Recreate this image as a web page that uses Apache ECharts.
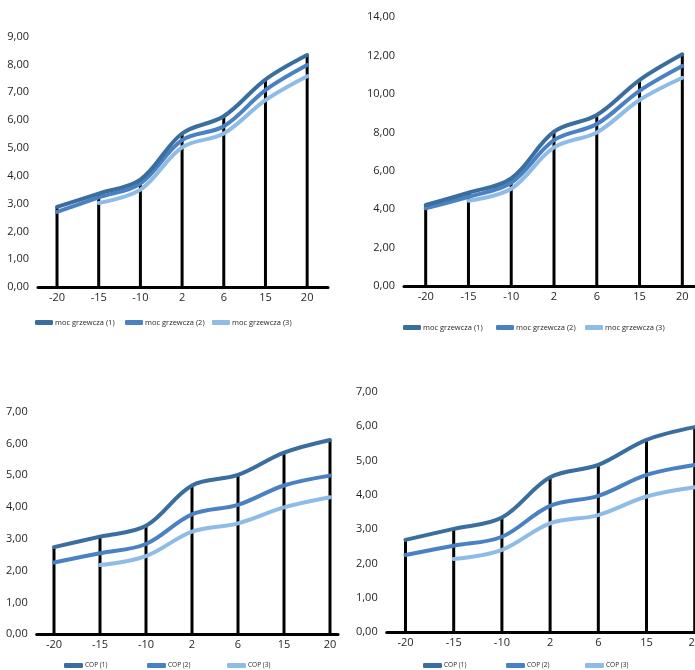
<!DOCTYPE html>
<html><head><meta charset="utf-8">
<script src="https://cdn.jsdelivr.net/npm/echarts@6/dist/echarts.min.js"></script>
<style>html,body{margin:0;padding:0;background:#fff}#c{width:695px;height:670px}</style>
</head><body><div id="c"></div>
<script>
// ---- data ----
const categories = ['-20', '-15', '-10', '2', '6', '15', '20'];

const heatNames = ['moc grzewcza (1)', 'moc grzewcza (2)', 'moc grzewcza (3)'];
const copNames = ['COP (1)', 'COP (2)', 'COP (3)'];

// panel top-left
const heatA1 = [2.88, 3.36, 3.86, 5.52, 6.14, 7.46, 8.34];
const heatA2 = [2.70, 3.22, 3.72, 5.28, 5.78, 7.08, 7.98];
const heatA3 = [null, 3.02, 3.50, 5.02, 5.52, 6.72, 7.58];
// panel top-right
const heatB1 = [4.22, 4.86, 5.61, 8.04, 8.91, 10.73, 12.07];
const heatB2 = [4.05, 4.65, 5.38, 7.60, 8.44, 10.17, 11.46];
const heatB3 = [null, 4.44, 5.07, 7.22, 8.00, 9.69, 10.85];
// panel bottom-left
const copA1 = [2.74, 3.07, 3.41, 4.68, 5.01, 5.71, 6.11];
const copA2 = [2.26, 2.55, 2.84, 3.77, 4.07, 4.68, 4.99];
const copA3 = [null, 2.18, 2.46, 3.23, 3.49, 3.99, 4.31];
// panel bottom-right
const copB1 = [2.69, 3.01, 3.34, 4.51, 4.87, 5.60, 5.97];
const copB2 = [2.25, 2.52, 2.78, 3.68, 3.97, 4.58, 4.87];
const copB3 = [null, 2.13, 2.40, 3.17, 3.41, 3.95, 4.22];

const yTicksHeatA = { max: 9, interval: 1 };
const yTicksHeatB = { max: 14, interval: 2 };
const yTicksCopA = { max: 7, interval: 1 };
const yTicksCopB = { max: 7, interval: 1 };

// ---- styling / layout ----
const colors = ['#3a6e9e', '#4a81c3', '#8fbce6'];
const FONT = 'Open Sans';
const panels = [
  { grid: { left: 38, top: 36.7, width: 290, height: 250.3 }, xmin: -0.456, xmax: 6.5,
    y: yTicksHeatA, names: heatNames, data: [heatA1, heatA2, heatA3],
    legendTop: 318.5, legendLeft: [35, 125, 212], legendFont: 7.5, iconW: 18 },
  { grid: { left: 404, top: 17.3, width: 299.7, height: 268.7 }, xmin: -0.507, xmax: 6.5,
    y: yTicksHeatB, names: heatNames, data: [heatB1, heatB2, heatB3],
    legendTop: 323.5, legendLeft: [403, 496, 585], legendFont: 7.5, iconW: 18 },
  { grid: { left: 36.7, top: 411.7, width: 301.3, height: 222.6 }, xmin: -0.376, xmax: 6.174,
    y: yTicksCopA, names: copNames, data: [copA1, copA2, copA3],
    legendTop: 662, legendLeft: [64, 147, 227], legendFont: 6.5, iconW: 19 },
  { grid: { left: 386.7, top: 391.7, width: 327.3, height: 240.6 }, xmin: -0.39, xmax: 6.4,
    y: yTicksCopB, names: copNames, data: [copB1, copB2, copB3],
    legendTop: 662, legendLeft: [423, 506, 585], legendFont: 6.5, iconW: 19 }
];

const fmt = v => v.toFixed(2).replace('.', ',');
const option = { animation: false, grid: [], xAxis: [], yAxis: [], series: [], legend: [] };

panels.forEach((p, gi) => {
  option.grid.push(Object.assign({ containLabel: false, outerBoundsMode: 'none' }, p.grid));
  option.xAxis.push({
    type: 'value', gridIndex: gi, min: p.xmin, max: p.xmax,
    axisLine: { show: true, onZero: false, lineStyle: { color: '#000', width: 3 } },
    axisTick: { show: false }, splitLine: { show: false },
    axisLabel: {
      customValues: categories.map((c, i) => i),
      formatter: v => categories[Math.round(v)],
      color: '#231f20', fontFamily: FONT, fontSize: 11, margin: 5
    }
  });
  option.yAxis.push({
    type: 'value', gridIndex: gi, min: 0, max: p.y.max, interval: p.y.interval,
    axisLine: { show: false }, axisTick: { show: false }, splitLine: { show: false },
    axisLabel: { formatter: fmt, color: '#231f20', fontFamily: FONT, fontSize: 11, margin: 9 }
  });
  // drop lines from axis to highest point
  const tops = categories.map((c, i) => [i, Math.max(...p.data.map(s => s[i] == null ? 0 : s[i]))]);
  option.series.push({
    type: 'bar', xAxisIndex: gi, yAxisIndex: gi, data: tops, barWidth: 3,
    itemStyle: { color: '#000' }, z: 1, silent: true
  });
  p.data.forEach((arr, si) => {
    option.series.push({
      name: p.names[si], type: 'line', xAxisIndex: gi, yAxisIndex: gi,
      data: arr.map((v, i) => [i, v]), smooth: 0.35, symbol: 'none',
      connectNulls: false,
      lineStyle: { color: colors[si], width: 4, cap: 'round', join: 'round' },
      itemStyle: { color: colors[si] }, z: 3 + (2 - si)
    });
  });
  p.names.forEach((n, si) => {
    option.legend.push({
      data: [{ name: n, icon: 'roundRect', itemStyle: { color: colors[si] } }],
      left: p.legendLeft[si], top: p.legendTop, itemWidth: p.iconW, itemHeight: 5, itemGap: 0,
      padding: 0, selectedMode: false,
      textStyle: { fontFamily: FONT, fontSize: p.legendFont, color: '#231f20', padding: [0, 0, 0, -3] }
    });
  });
});

echarts.init(document.getElementById('c'), null, { renderer: 'canvas' }).setOption(option);
</script></body></html>
